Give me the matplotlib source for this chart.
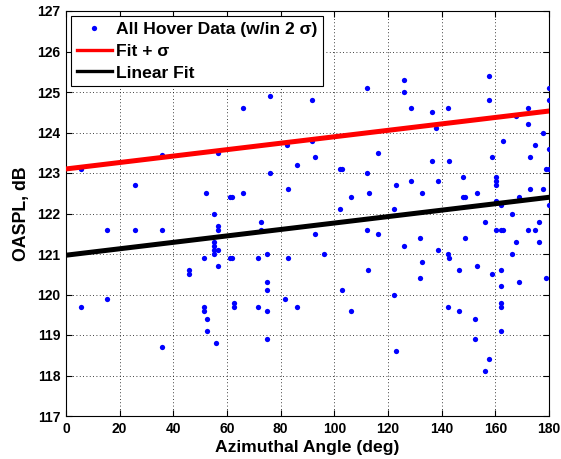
import matplotlib
matplotlib.use("Agg")
import matplotlib.pyplot as plt
import numpy as np

plt.rcParams['font.family'] = ['Liberation Sans', 'DejaVu Sans']

# Azimuthal angle (deg) and OASPL (dB) of the hover data points
angle = [5.5, 5.5, 15.4, 15.4, 25.9, 25.9, 35.9, 35.9, 35.9,
         45.9, 45.9, 51.6, 51.6, 51.6, 52.3, 52.6, 52.6,
         55.1, 55.1, 55.1, 55.1, 55.1, 55.8,
         56.6, 56.6, 56.6, 56.6, 56.6,
         61.0, 61.0, 61.8, 61.8, 62.6, 62.6, 66.0, 66.0,
         71.5, 71.5, 72.5, 72.5, 74.8, 74.8, 74.8, 74.8, 74.8, 76.0, 76.0,
         81.7, 82.5, 82.7, 82.7, 86.0, 86.0,
         91.7, 91.7, 92.7, 92.7, 96.2,
         102.2, 102.2, 102.7, 102.7, 106.2, 106.2,
         112.1, 112.1, 112.1, 112.6, 112.9, 116.1, 116.1,
         122.1, 122.1, 122.9, 122.9, 126.1, 126.1, 126.1,
         128.6, 128.6, 132.1, 132.1, 132.8, 132.8,
         136.3, 136.3, 137.8, 138.8, 138.8,
         142.3, 142.3, 142.3, 142.8, 142.8, 146.3, 146.3,
         147.8, 147.8, 148.8, 148.8, 152.3, 152.3, 153.0, 153.0,
         156.3, 156.3, 157.8, 157.8, 157.8, 158.8, 158.8,
         160.3, 160.3, 160.3, 160.3, 160.3,
         162.2, 162.2, 162.2, 162.2, 162.2, 162.2, 162.2, 163.0, 163.0,
         166.2, 166.2, 167.7, 167.7, 169.0, 169.0,
         172.2, 172.2, 172.2, 173.0, 173.0, 174.7, 174.7,
         176.4, 176.4, 177.9, 177.9, 178.7, 178.9,
         180.0, 180.0, 180.0, 180.0, 180.0]
oaspl = [123.1, 119.7, 121.6, 119.9, 122.7, 121.6, 123.45, 121.6, 118.7,
         120.6, 120.5, 120.9, 119.7, 119.6, 122.5, 119.4, 119.1,
         122.0, 121.3, 121.2, 121.1, 121.0, 118.8,
         123.5, 121.7, 121.6, 121.1, 120.7,
         122.4, 120.9, 122.4, 120.9, 119.8, 119.7, 124.6, 122.5,
         120.9, 119.7, 121.8, 121.6, 121.0, 120.3, 120.1, 119.6, 118.9, 124.9, 123.0,
         119.9, 123.7, 122.6, 120.9, 123.2, 119.7,
         124.8, 123.8, 123.4, 121.5, 121.0,
         123.1, 122.1, 123.1, 120.1, 122.4, 119.6,
         125.1, 123.0, 121.6, 120.6, 122.5, 123.5, 121.5,
         122.1, 120.0, 122.7, 118.6, 125.3, 125.0, 121.2,
         124.6, 122.8, 121.4, 120.4, 122.5, 120.8,
         124.5, 123.3, 124.1, 122.8, 121.1,
         124.6, 121.0, 119.7, 123.3, 120.9, 120.6, 119.6,
         122.9, 122.4, 122.4, 121.4, 119.4, 118.9, 122.5, 120.7,
         121.8, 118.1, 125.4, 124.8, 118.4, 123.4, 120.5,
         122.9, 122.8, 122.7, 122.3, 121.6,
         122.2, 121.6, 120.6, 120.2, 119.8, 119.7, 119.1, 123.8, 121.6,
         122.0, 121.0, 124.4, 121.3, 122.4, 120.3,
         124.6, 124.2, 121.6, 123.4, 122.6, 123.7, 121.6,
         121.8, 121.3, 124.0, 122.6, 123.1, 120.4,
         125.1, 124.8, 123.6, 123.1, 122.2]

# Linear fit parameters (intercept, slope) and sigma offset
fit_intercept = 120.97
fit_slope = 1.43 / 180
sigma = 2.13

x_range = [0, 180]

fig = plt.figure(figsize=(5.61, 4.59), dpi=100)
ax = fig.add_axes([66/561, 43/459, 483/561, 405/459])

xf = np.array(x_range, dtype=float)
yfit = fit_intercept + fit_slope * xf

ax.plot(angle, oaspl, 'o', color='#0000ff', markersize=3.8, markeredgewidth=0,
        label='All Hover Data (w/in 2 \u03c3)', zorder=3)
ax.plot(xf, yfit + sigma, color='#ff0000', lw=3.6, label='Fit + \u03c3', zorder=4)
ax.plot(xf, yfit, color='black', lw=3.6, label='Linear Fit', zorder=4)

ax.set_xlim(0, 180)
ax.set_ylim(117, 127)
ax.set_xticks(np.arange(0, 181, 20))
ax.set_yticks(np.arange(117, 128, 1))
ax.grid(True, color='black', linestyle=(0, (1, 3)), linewidth=0.6)
ax.tick_params(direction='in', top=True, right=True, length=4, labelsize=10, pad=4)
for lab in ax.get_xticklabels() + ax.get_yticklabels():
    lab.set_fontweight('bold')
for s in ax.spines.values():
    s.set_linewidth(0.8)

ax.set_xlabel('Azimuthal Angle (deg)', fontsize=12.6, fontweight='bold', labelpad=3)
ax.set_ylabel('OASPL, dB', fontsize=12.8, fontweight='bold', labelpad=5)

leg = ax.legend(loc='upper left', prop={'weight': 'bold', 'size': 12.6},
                fancybox=False, edgecolor='black', framealpha=1,
                borderaxespad=0.3, handlelength=2.0, labelspacing=0.38,
                borderpad=0.3, handletextpad=0.25)
leg.get_frame().set_linewidth(0.8)
for h in leg.get_lines():
    h.set_linewidth(2.4)

fig.savefig('out.png', dpi=100)
